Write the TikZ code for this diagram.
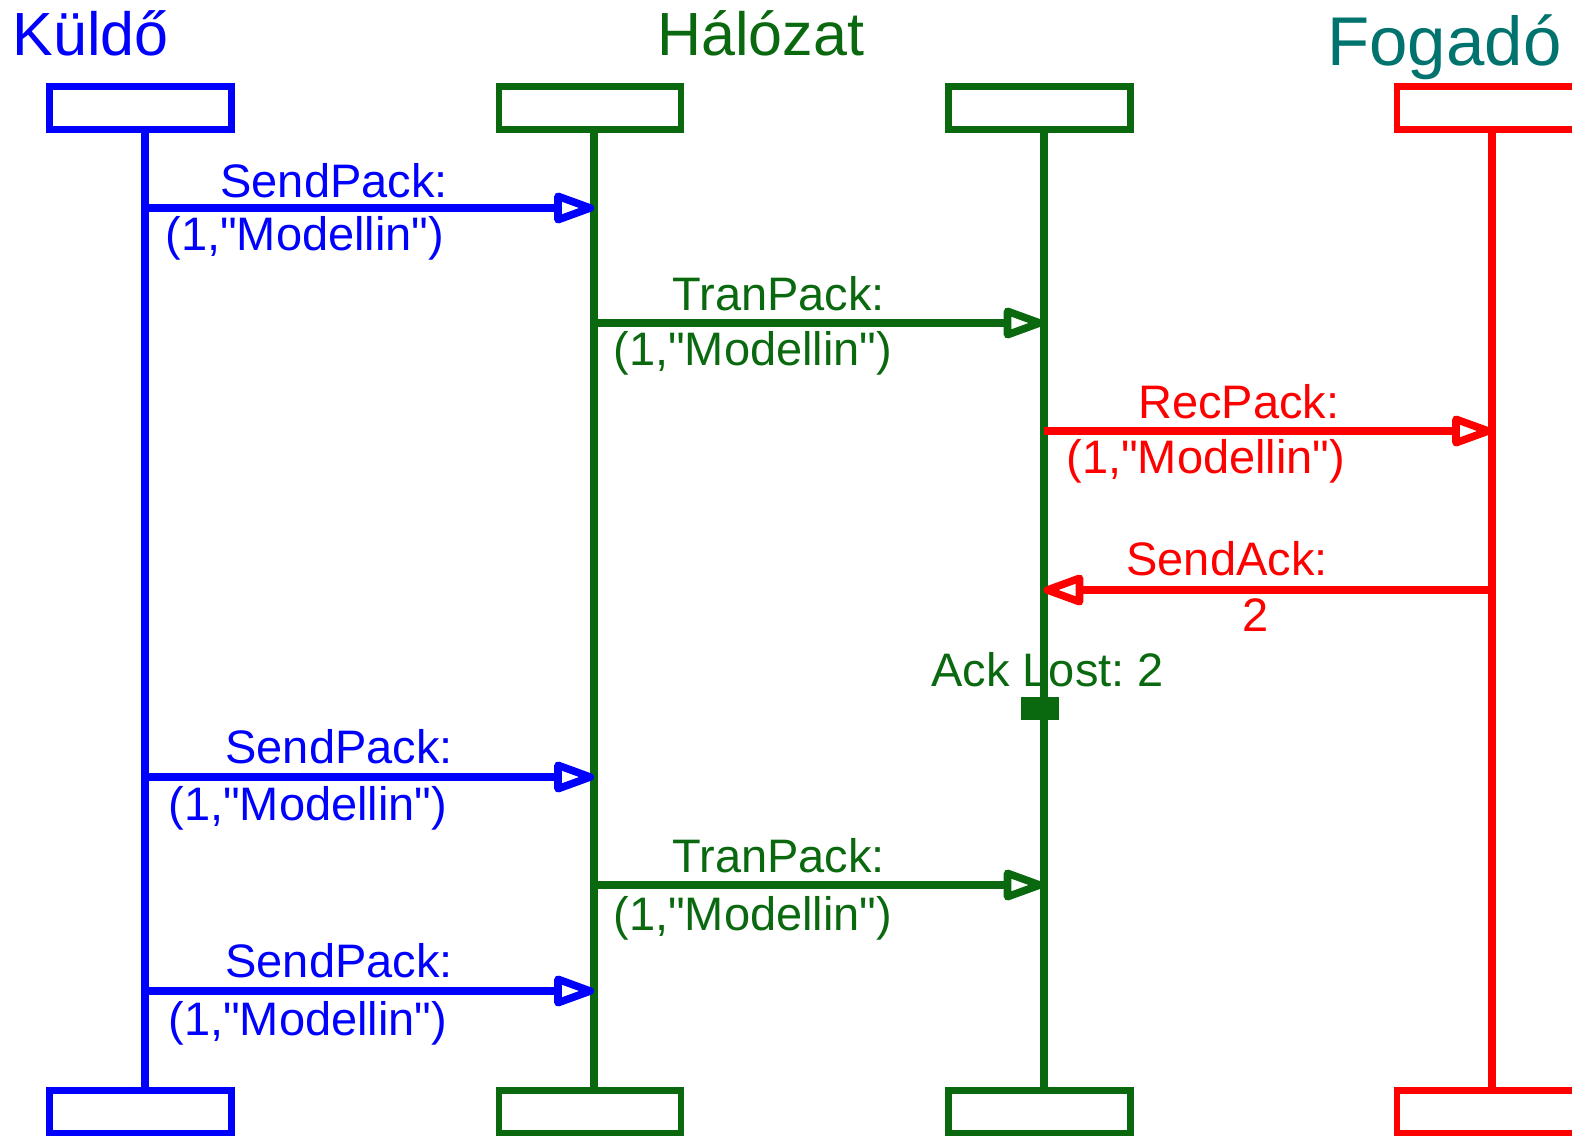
\documentclass[tikz,border=0pt]{standalone}
\usepackage{fontspec}
\setmainfont{Liberation Sans}[Ligatures=TeXOff]
\usepackage{xcolor}
\usetikzlibrary{arrows.meta}
\frenchspacing

\definecolor{sndblue}{RGB}{0,0,255}
\definecolor{netgreen}{RGB}{10,105,15}
\definecolor{rcvred}{RGB}{255,0,0}
\definecolor{rcvteal}{RGB}{0,115,110}

\begin{document}
\begin{tikzpicture}[
  x=0.5pt, y=-0.5pt,
  head/.style={draw, line width=3.3pt, minimum width=91pt, minimum height=21.5pt, inner sep=0pt},
  life/.style={line width=4pt},
  msg/.style={-{Triangle[open, round, length=24pt, width=16pt]}, line width=3.8pt},
  lbl/.style={anchor=base west, inner sep=0pt, font=\fontsize{23.5pt}{28pt}\selectfont},
  ttl/.style={anchor=base west, inner sep=0pt, font=\fontsize{30.5pt}{36pt}\selectfont},
]
  \useasboundingbox (0,0) rectangle (1572,1135);

  % Titles
  \node[ttl, text=sndblue] (tku) at (12,55) {Küldő};
  \node[ttl, text=netgreen] (tha) at (657,55) {Hálózat};
  \node[ttl, text=rcvteal, font=\fontsize{34.5pt}{40pt}\selectfont] (tfo) at (1327,65) {Fogadó};

  % Sender lifeline
  \node[head, sndblue] (ku1) at (140.5,108) {};
  \node[head, sndblue] (ku2) at (140.5,1112) {};
  \draw[life, sndblue] ([xshift=2pt]ku1.south) -- ([xshift=2pt]ku2.north);

  % Network lifelines
  \node[head, netgreen] (ha1) at (590,108) {};
  \node[head, netgreen] (ha2) at (590,1112) {};
  \draw[life, netgreen] ([xshift=2pt]ha1.south) -- ([xshift=2pt]ha2.north);
  \node[head, netgreen] (hb1) at (1039.5,108) {};
  \node[head, netgreen] (hb2) at (1039.5,1112) {};
  \draw[life, netgreen] ([xshift=2pt]hb1.south) -- ([xshift=2pt]hb2.north);

  % Receiver lifeline
  \node[head, rcvred] (fo1) at (1488,108) {};
  \node[head, rcvred] (fo2) at (1488,1112) {};
  \draw[life, rcvred] ([xshift=2pt]fo1.south) -- ([xshift=2pt]fo2.north);

  % First packet
  \coordinate (k1) at (144.5,208);
  \coordinate (h1) at (594,208);
  \draw[msg, sndblue] (k1) -- (h1);
  \node[lbl, text=sndblue] (l1a) at (220,197) {SendPack:};
  \node[lbl, text=sndblue] (l1b) at (165,250) {(1,"Modellin")};

  \coordinate (h2) at (594,323);
  \coordinate (g2) at (1043.5,323);
  \draw[msg, netgreen] (h2) -- (g2);
  \node[lbl, text=netgreen] (l2a) at (672,310) {TranPack:};
  \node[lbl, text=netgreen] (l2b) at (613,365) {(1,"Modellin")};

  \coordinate (g3) at (1043.5,431);
  \coordinate (f3) at (1492,431);
  \draw[msg, rcvred] (g3) -- (f3);
  \node[lbl, text=rcvred] (l3a) at (1138,418) {RecPack:};
  \node[lbl, text=rcvred] (l3b) at (1066,473) {(1,"Modellin")};

  % Acknowledgement, lost in the network
  \coordinate (f4) at (1492,590);
  \coordinate (g4) at (1043.5,590);
  \draw[msg, rcvred] (f4) -- (g4);
  \node[lbl, text=rcvred] (l4a) at (1126,575) {SendAck:};
  \node[lbl, text=rcvred] (l4b) at (1242,631) {2};

  \node[lbl, text=netgreen] (lost) at (931,686) {Ack Lost: 2};
  \node[fill=netgreen, minimum width=19pt, minimum height=11.5pt, inner sep=0pt] (lostmk) at (1040,708) {};

  % Retransmissions
  \coordinate (k6) at (144.5,777);
  \coordinate (h6) at (594,777);
  \draw[msg, sndblue] (k6) -- (h6);
  \node[lbl, text=sndblue] (l6a) at (225,763) {SendPack:};
  \node[lbl, text=sndblue] (l6b) at (168,820) {(1,"Modellin")};

  \coordinate (h7) at (594,885);
  \coordinate (g7) at (1043.5,885);
  \draw[msg, netgreen] (h7) -- (g7);
  \node[lbl, text=netgreen] (l7a) at (672,872) {TranPack:};
  \node[lbl, text=netgreen] (l7b) at (613,930) {(1,"Modellin")};

  \coordinate (k8) at (144.5,991);
  \coordinate (h8) at (594,991);
  \draw[msg, sndblue] (k8) -- (h8);
  \node[lbl, text=sndblue] (l8a) at (225,977) {SendPack:};
  \node[lbl, text=sndblue] (l8b) at (168,1035) {(1,"Modellin")};
\end{tikzpicture}
\end{document}
